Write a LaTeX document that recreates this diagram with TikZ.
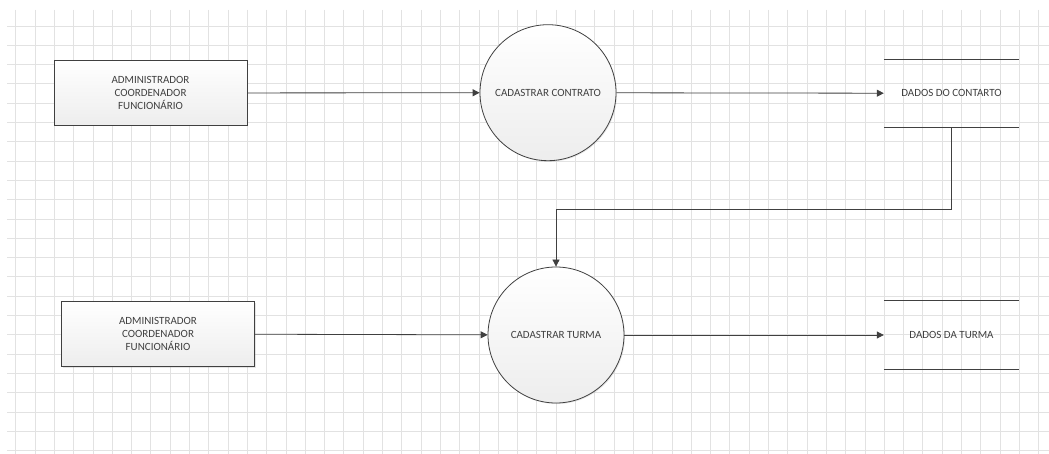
\documentclass[tikz,border=0pt]{standalone}
\usepackage{fontspec}
\setmainfont{Carlito}
\usetikzlibrary{arrows.meta,shadows}
\definecolor{ink}{HTML}{404040}
\definecolor{gridc}{HTML}{E2E2E2}
\begin{document}
\begin{tikzpicture}[x=1pt,y=-1pt,
  gridline/.style={gridc,line width=0.8pt},
  entity/.style={rectangle,draw=ink,line width=0.8pt,top color=white,bottom color=gray!14,
    minimum width=193pt,minimum height=65pt,inner sep=0pt,align=center,
    font=\fontsize{11}{13}\selectfont\color{ink},
    drop shadow={shadow xshift=1pt,shadow yshift=-1pt,opacity=0.2}},
  process/.style={circle,draw=ink,line width=0.8pt,top color=white,bottom color=gray!14,
    minimum size=136pt,inner sep=0pt,align=center,
    font=\fontsize{11}{13}\selectfont\color{ink},
    drop shadow={shadow xshift=1pt,shadow yshift=-1pt,opacity=0.2}},
  store/.style={rectangle,minimum width=135pt,minimum height=68pt,inner sep=0pt,
    font=\fontsize{11}{13}\selectfont\color{ink}},
  storeline/.style={ink,line width=1pt},
  flow/.style={ink,line width=0.8pt,-{Triangle[length=7pt,width=7pt]}}
]
\useasboundingbox (0,0) rectangle (1049,454);
\fill[white] (0,0) rectangle (1049,454);
\foreach \i in {0,...,53} \draw[gridline] (15.7+19.3*\i,10) -- (15.7+19.3*\i,454);
\foreach \j in {0,...,22} \draw[gridline] (7,26+19.3*\j) -- (1049,26+19.3*\j);

\node[entity] (ext1) at (150.5,93) {ADMINISTRADOR\\COORDENADOR\\FUNCIONÁRIO};
\node[entity] (ext2) at (158,334) {ADMINISTRADOR\\COORDENADOR\\FUNCIONÁRIO};
\node[process] (proc1) at (548,92.7) {CADASTRAR CONTRATO};
\node[process] (proc2) at (556,335) {CADASTRAR TURMA};
\node[store] (store1) at (951.5,93.3) {DADOS DO CONTARTO};
\node[store] (store2) at (951.5,335) {DADOS DA TURMA};
\foreach \s in {store1,store2}{
  \draw[storeline] (\s.north west) -- (\s.north east);
  \draw[storeline] (\s.south west) -- (\s.south east);
}
\coordinate (bend) at (951.5,209.3);

\draw[flow] (ext1) -- (proc1);
\draw[flow] (proc1) -- (store1);
\draw[flow] (ext2) -- (proc2);
\draw[flow] (proc2) -- (store2);
\draw[flow] (store1.south) -- (bend) -| (proc2.north);
\end{tikzpicture}
\end{document}
